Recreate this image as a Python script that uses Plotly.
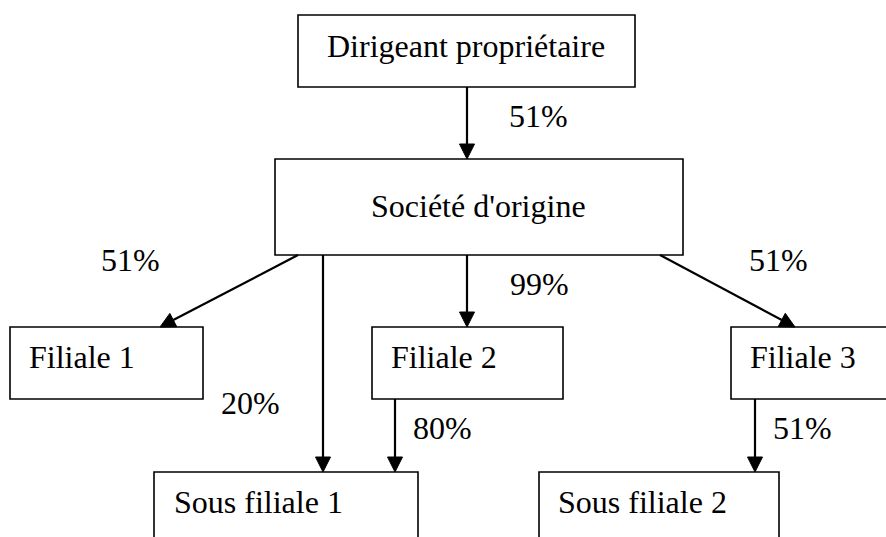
import math
import plotly.graph_objects as go

# ---- data ----
entities = ["Dirigeant propriétaire", "Société d'origine", "Filiale 1", "Filiale 2",
            "Filiale 3", "Sous filiale 1", "Sous filiale 2"]
link_from = ["Dirigeant propriétaire", "Société d'origine", "Société d'origine", "Société d'origine",
             "Société d'origine", "Filiale 2", "Filiale 3"]
link_to = ["Société d'origine", "Filiale 1", "Sous filiale 1", "Filiale 2",
           "Filiale 3", "Sous filiale 1", "Sous filiale 2"]
link_pct = ["51%", "51%", "20%", "99%", "51%", "80%", "51%"]

# ---- layout (pixel geometry) ----
W, H = 886, 537
FONT = "'Times New Roman', 'Liberation Serif', 'DejaVu Serif', serif"
FS = 32
TXT_DX = -3
box_geom = {  # x0, x1, y0, y1, open sides
    "Dirigeant propriétaire": (298, 635, 15, 87, ""),
    "Société d'origine": (275, 683, 159, 255, ""),
    "Filiale 1": (10, 203, 327, 399, ""),
    "Filiale 2": (372, 563, 327, 399, ""),
    "Filiale 3": (731, 900, 327, 399, "R"),
    "Sous filiale 1": (154, 418, 472, 560, "B"),
    "Sous filiale 2": (539, 779, 472, 560, "B"),
}
box_text = {  # left x, baseline y
    "Dirigeant propriétaire": (328, 56),
    "Société d'origine": (372, 216),
    "Filiale 1": (30, 367),
    "Filiale 2": (392, 367),
    "Filiale 3": (751, 367),
    "Sous filiale 1": (175, 512),
    "Sous filiale 2": (559, 512),
}
link_geom = [  # start, end
    ((467, 87), (467, 159)),
    ((298, 255), (160, 327)),
    ((323, 255), (323, 472)),
    ((467, 255), (467, 327)),
    ((660, 255), (795, 327)),
    ((395, 399), (395, 472)),
    ((755, 399), (755, 472)),
]
label_pos = [(510, 126), (102, 270), (222, 413), (511, 294), (750, 270), (414, 438), (774, 438)]

shapes = []
annotations = []

def add_text(txt, x, base):
    annotations.append(dict(x=x + TXT_DX, y=base - 0.31 * FS, xref="x", yref="y", text=txt,
                            showarrow=False, xanchor="left", yanchor="middle",
                            font=dict(family=FONT, size=FS, color="black")))

for name in entities:
    x0, x1, y0, y1, open_side = box_geom[name]
    if open_side == "R":
        path = f"M {x1} {y0} L {x0} {y0} L {x0} {y1} L {x1} {y1}"
    elif open_side == "B":
        path = f"M {x0} {y1} L {x0} {y0} L {x1} {y0} L {x1} {y1}"
    else:
        path = f"M {x0} {y0} L {x1} {y0} L {x1} {y1} L {x0} {y1} Z"
    shapes.append(dict(type="path", path=path, xref="x", yref="y",
                       line=dict(color="black", width=1.6)))
    tx, tb = box_text[name]
    add_text(name, tx, tb)

HL, HW = 15, 7.5
for (p0, p1), pct, lp in zip(link_geom, link_pct, label_pos):
    (xa, ya), (xb, yb) = p0, p1
    dx, dy = xb - xa, yb - ya
    L = math.hypot(dx, dy)
    ux, uy = dx / L, dy / L
    bx, by = xb - ux * HL, yb - uy * HL
    shapes.append(dict(type="line", x0=xa, y0=ya, x1=bx, y1=by, xref="x", yref="y",
                       line=dict(color="black", width=2.2)))
    px, py = -uy, ux
    tri = (f"M {xb} {yb} L {bx + px * HW} {by + py * HW} "
           f"L {bx - px * HW} {by - py * HW} Z")
    shapes.append(dict(type="path", path=tri, xref="x", yref="y",
                       fillcolor="black", line=dict(color="black", width=1)))
    add_text(pct, lp[0], lp[1])

fig = go.Figure()
fig.update_layout(
    width=W, height=H, margin=dict(l=0, r=0, t=0, b=0),
    paper_bgcolor="white", plot_bgcolor="white",
    font=dict(family=FONT),
    xaxis=dict(range=[0, W], visible=False, fixedrange=True),
    yaxis=dict(range=[H, 0], visible=False, fixedrange=True),
    shapes=shapes, annotations=annotations, showlegend=False,
)
fig.write_html("out.html", config={"displayModeBar": False},
               post_script="document.body.style.margin='0';document.body.style.padding='0';")
